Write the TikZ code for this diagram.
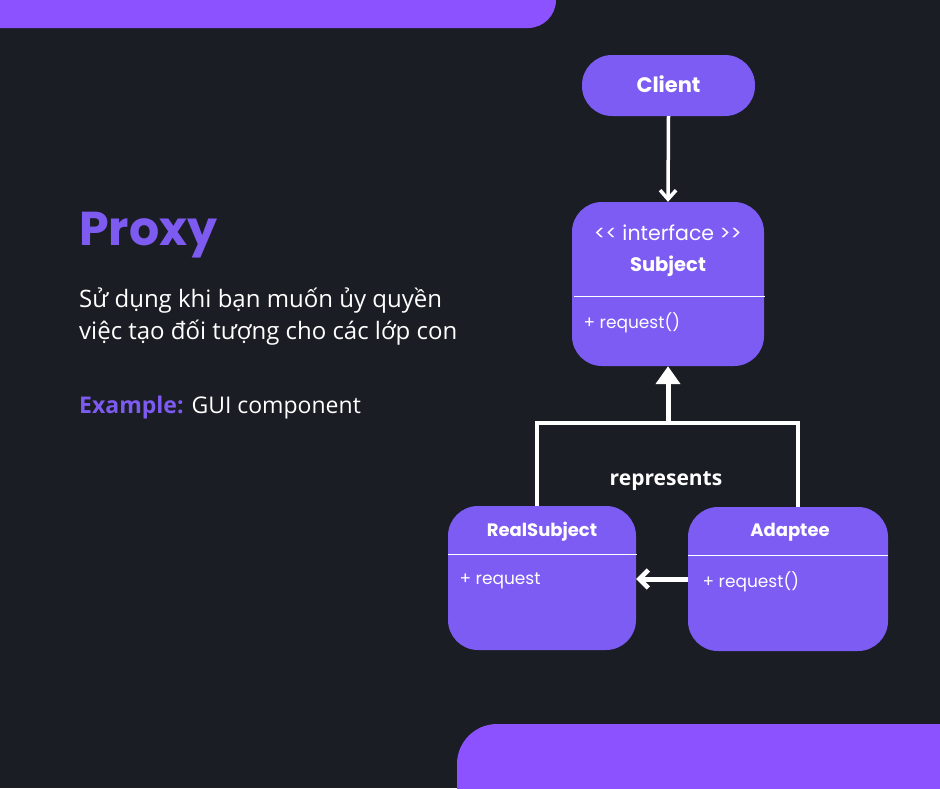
\documentclass[tikz,border=0pt]{standalone}
\usepackage{fontspec}
\setmainfont{Open Sans}
\newfontfamily\pop{Poppins}
\usetikzlibrary{arrows.meta}
\definecolor{bg}{HTML}{1A1D23}
\definecolor{bar}{HTML}{8C52FF}
\definecolor{boxc}{HTML}{7D5CF4}
\definecolor{accent}{HTML}{7D5AF0}
\tikzset{
  umlbox/.style={fill=boxc, rounded corners=30pt, inner sep=0pt},
  title/.style={text=white, font=\pop\bfseries\fontsize{18}{20}\selectfont},
  member/.style={text=white, anchor=west, font=\pop\fontsize{17}{20}\selectfont},
  sepline/.style={draw=white, line width=1pt},
  conn/.style={draw=white, line width=4pt},
  body/.style={text=white, anchor=base west, font=\fontsize{24}{28}\selectfont}
}
\begin{document}
\begin{tikzpicture}[x=1pt,y=-1pt]
\useasboundingbox (0,0) rectangle (940,788);
\clip (0,0) rectangle (940,788);
\fill[bg] (0,0) rectangle (940,788);
\fill[bar, rounded corners=28pt] (-60,-60) rectangle (556,28);
\fill[bar, rounded corners=40pt] (457,724) rectangle (1000,850);

% left text
\node[anchor=base west, inner sep=0pt, text=accent, font=\pop\bfseries\fontsize{47.5}{52}\selectfont] (ttl) at (79,245) {Proxy};
\node[body, inner sep=0pt] (d1) at (79,307) {Sử dụng khi bạn muốn ủy quyền};
\node[body, inner sep=0pt] (d2) at (79,339) {việc tạo đối tượng cho các lớp con};
\node[body, inner sep=0pt, font=\fontsize{23}{28}\selectfont] (ex) at (79,413) {\textcolor{accent}{\bfseries Example:} GUI component};

% boxes
\node[umlbox, minimum width=173pt, minimum height=61pt] (client) at (668.5,85.5) {};
\node[title, font=\pop\bfseries\fontsize{21}{24}\selectfont] (clientt) at (668.5,84) {Client};

\node[umlbox, minimum width=192pt, minimum height=164pt] (subj) at (668,284) {};
\node[text=white, font=\pop\fontsize{20.5}{22}\selectfont] (subji) at (668,233) {<< interface >>};
\node[title, font=\pop\bfseries\fontsize{19.5}{22}\selectfont] (subjt) at (668,266) {Subject};
\draw[sepline] (574,296) -- (765,296);
\node[member] (subjm) at (580,323) {+ request()};

\node[umlbox, minimum width=188pt, minimum height=144pt] (rs) at (542,578) {};
\node[title] (rst) at (542,532) {RealSubject};
\draw[sepline] (448,554) -- (637,554);
\node[member] (rsm) at (456,581) {+ request};

\node[umlbox, minimum width=200pt, minimum height=144pt] (ad) at (788,579) {};
\node[title] (adt) at (790,532) {Adaptee};
\draw[sepline] (688,555) -- (888,555);
\node[member] (adm) at (699,582) {+ request()};

% connectors
\draw[conn, -{Straight Barb[length=9pt,width=16pt,line width=3.5pt]}, line width=3.5pt] (client.south) -- (subj.north);

\coordinate (jl) at (537,423);
\coordinate (jm) at (668,423);
\coordinate (jr) at (798,423);
\draw[conn] (rs.north -| jl) -- (jl) -- (jr) -- (ad.north -| jr);
\draw[conn, line width=5pt, -{Triangle[length=18pt,width=24pt]}] (jm) -- (subj.south);

\node[text=white, font=\bfseries\fontsize{21}{24}\selectfont] (rep) at (666,481) {represents};

\coordinate (aw) at (688,579);
\draw[conn, line width=5pt, -{Straight Barb[length=9pt,width=18pt,line width=4.5pt]}] (aw) -- (rs.east |- aw);
\end{tikzpicture}
\end{document}
